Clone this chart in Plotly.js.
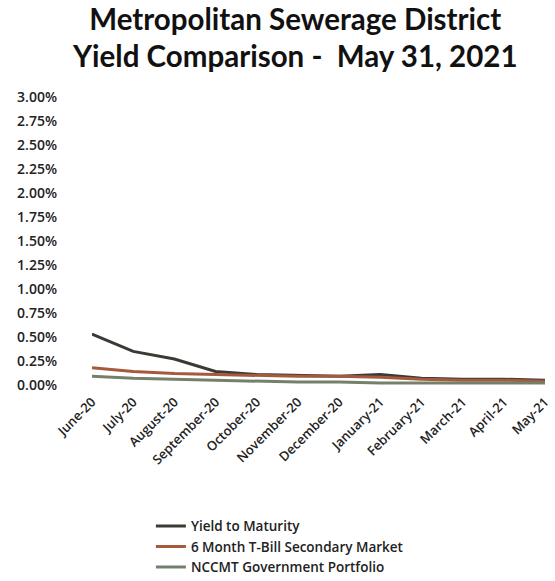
<!DOCTYPE html>
<html><head><meta charset="utf-8">
<script src="https://cdn.plot.ly/plotly-3.0.1.min.js"></script>
<style>body{margin:0;background:#fff}#chart{width:555px;height:581px}</style>
</head><body><div id="chart"></div>
<script>
const months = ["June-20","July-20","August-20","September-20","October-20","November-20","December-20","January-21","February-21","March-21","April-21","May-21"];
const yieldToMaturity = [0.53,0.35,0.27,0.14,0.11,0.10,0.09,0.11,0.07,0.06,0.06,0.05];
const tBill6Month = [0.18,0.14,0.12,0.11,0.10,0.09,0.09,0.08,0.06,0.05,0.05,0.04];
const nccmtGov = [0.09,0.07,0.06,0.05,0.04,0.03,0.03,0.02,0.02,0.02,0.02,0.02];
const yTicks = [0,0.25,0.5,0.75,1,1.25,1.5,1.75,2,2.25,2.5,2.75,3];
const titleLine1 = "Metropolitan Sewerage District";
const titleLine2 = "Yield Comparison -  May 31, 2021";

const font = "Open Sans, sans-serif";
const titleFont = {family: "Lato, sans-serif", size: 29.5, weight: 900, color: "#111"};
const traces = [
  {x: months, y: yieldToMaturity, name: "Yield to Maturity", mode: "lines", line: {color: "#3d3935", width: 3}},
  {x: months, y: tBill6Month, name: "6 Month T-Bill Secondary Market", mode: "lines", line: {color: "#a55a3e", width: 3}},
  {x: months, y: nccmtGov, name: "NCCMT Government Portfolio", mode: "lines", line: {color: "#74806a", width: 3}}
];
const layout = {
  width: 555, height: 581,
  margin: {l: 92, r: 10, t: 97, b: 196},
  paper_bgcolor: "#fff", plot_bgcolor: "#fff",
  title: {text: "<b>" + titleLine1 + "</b>", x: 0.532, xanchor: "center", yref: "container", y: 0.9656, yanchor: "middle", font: titleFont},
  annotations: [{text: "<b>" + titleLine2 + "</b>", xref: "paper", yref: "paper", x: 0.448, y: 1.1458, xanchor: "center", yanchor: "middle", showarrow: false, font: titleFont}],
  xaxis: {type: "category", range: [0, 11], automargin: false, tickangle: -45, tickfont: {family: font, size: 13, weight: 600, color: "#222"}, showgrid: false, zeroline: false, showline: false, ticks: "", ticklabelstandoff: 6},
  yaxis: {range: [0, 3], automargin: false, tickvals: yTicks, ticktext: yTicks.map(v => v.toFixed(2) + "%"), tickfont: {family: font, size: 14, weight: 600, color: "#222"}, showgrid: false, zeroline: false, showline: false, ticks: "", ticklabelstandoff: 34},
  showlegend: true,
  legend: {orientation: "v", x: 0.13, xanchor: "left", yref: "container", y: 0.121, yanchor: "top", font: {family: font, size: 13.5, weight: 600, color: "#222"}, tracegroupgap: 0, itemwidth: 30, bgcolor: "rgba(0,0,0,0)"}
};
Plotly.newPlot("chart", traces, layout, {displayModeBar: false});
</script></body></html>
